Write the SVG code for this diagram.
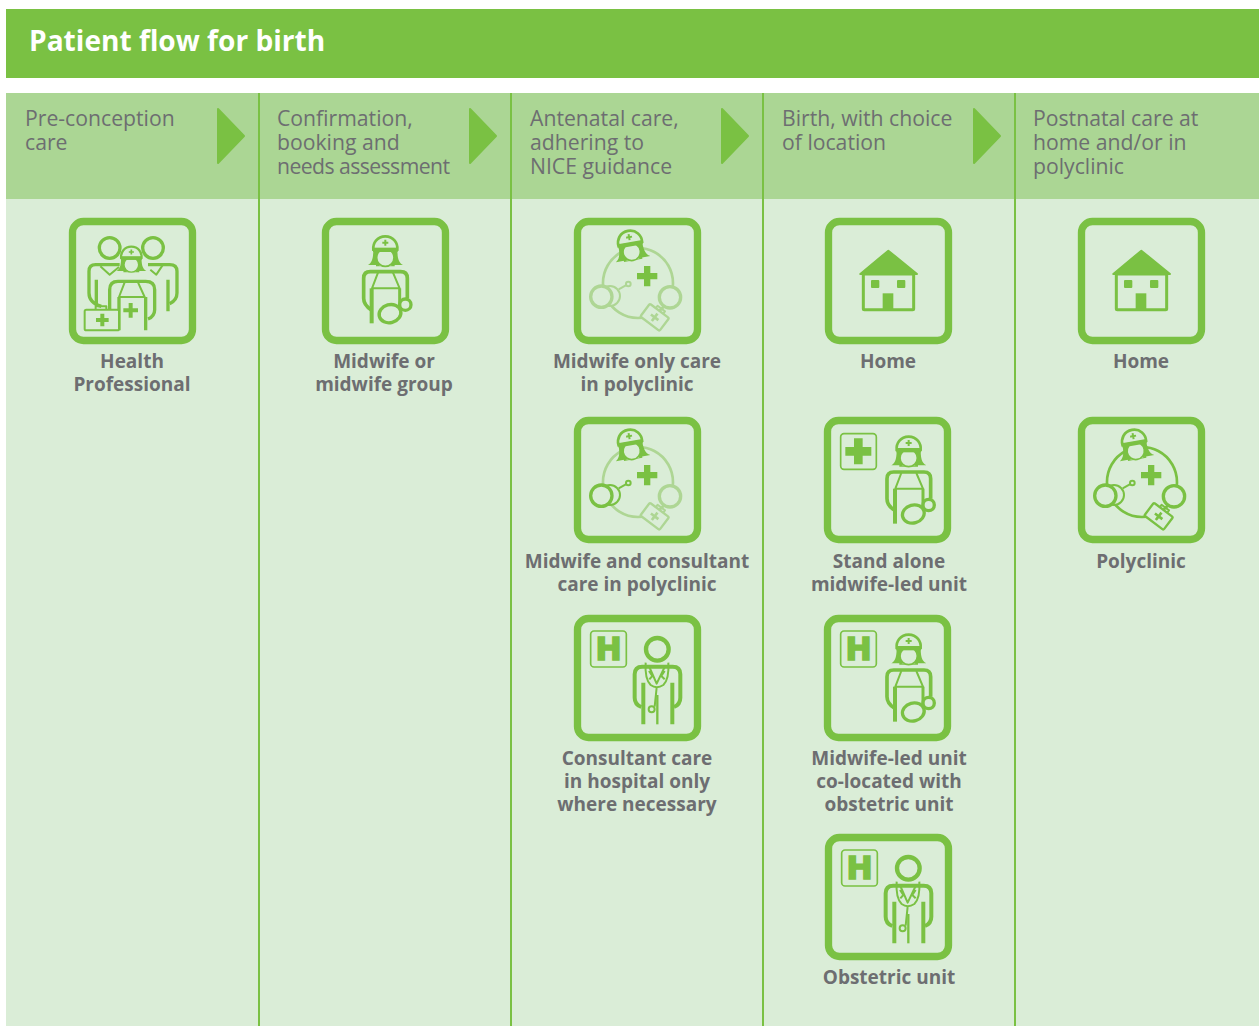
<svg xmlns="http://www.w3.org/2000/svg" width="1259" height="1026" viewBox="0 0 1259 1026">
<style>
.hd{font-family:"Open Sans","Noto Sans",sans-serif;font-size:21.2px;fill:#6D6E71}
.lb{font-family:"Open Sans","Noto Sans",sans-serif;font-size:19px;font-weight:700;fill:#6D6E71;text-anchor:middle}
.ti{font-family:"Open Sans","Noto Sans",sans-serif;font-size:28.1px;font-weight:700;fill:#fff}
.s{fill:none;stroke:currentColor;stroke-linecap:butt;stroke-linejoin:round}
.f{fill:currentColor}
.b{fill:#DAEDD7;stroke:currentColor}
.ic{color:#7AC143}
.lt{color:#AED694}
</style>
<defs>
<rect id="frame" x="10.5" y="10.5" width="360" height="357" rx="33" fill="#DAEDD7" stroke="#7AC143" stroke-width="22"/>
<g id="head">
<path class="f" d="M-52,40C-38,32-36,15-36,-10L36,-10C36,15 38,32 53,40Z"/>
<path class="f" d="M-28,36Q0,52 28,36V44H-28Z"/>
<circle class="b" cx="0" cy="18" r="26" stroke-width="5"/>
<path class="b" stroke-width="8" d="M-36,-6C-38,-25-25,-46 0,-46C25,-46 38,-25 36,-6Z"/>
<rect class="f" x="-37" y="-12" width="74" height="13"/>
<path class="f" d="M-3,-36h6v6h6v6h-6v6h-6v-6h-6v-6h6z"/>
</g>
<g id="midwife" transform="translate(-22,-24)">
<use href="#head" transform="translate(212,125)"/>
<path class="s" stroke-width="11" d="M170,300Q147,285 147,265L147,205Q147,185 167,185L258,185Q278,185 278,205L278,265"/>
<path class="s" stroke-width="6" d="M190,188L172,235L255,235L235,188"/>
<path class="s" stroke-width="12" d="M171,235V340"/>
<path class="s" stroke-width="9" d="M255,235V290"/>
<circle class="b" cx="272" cy="284" r="17" stroke-width="10"/>
<ellipse class="b" cx="226" cy="311" rx="33" ry="27" stroke-width="10" transform="rotate(-15 226 311)"/>
</g>
<g id="doctor" transform="translate(-20,-22)">
<circle class="s" cx="270" cy="125" r="34" stroke-width="13"/>
<path class="s" stroke-width="12" d="M222,298Q202,290 202,270L202,200Q202,177 225,177L316,177Q339,177 339,200L339,270Q339,290 320,298"/>
<path class="s" stroke-width="12" d="M228,225V350M315,225V350"/>
<path class="s" stroke-width="7" d="M270,262V350"/>
<path class="s" stroke-width="6" d="M235,165Q232,215 250,232Q268,245 288,232Q306,215 303,165M246,178L268,228L292,178M268,240L262,297M245,190L255,205L246,215M292,190L282,205L292,215"/>
<circle class="s" cx="253" cy="305" r="9" stroke-width="6"/>
</g>
<g id="house" transform="translate(-20,-24)">
<path class="f" stroke="currentColor" stroke-width="6" stroke-linejoin="round" d="M210,122L126,192H296Z"/>
<rect class="s" x="135" y="192" width="151" height="107" stroke-width="9" rx="3"/>
<rect class="f" x="158" y="210" width="25" height="24" rx="3"/>
<rect class="f" x="236" y="210" width="25" height="24" rx="3"/>
<rect class="f" x="193" y="250" width="32" height="47"/>
</g>
<g id="crossbox">
<rect x="50" y="50" width="107" height="107" rx="10" fill="none" stroke="#7AC143" stroke-width="5"/>
<path fill="#7AC143" d="M90,64h26v26h26v26h-26v26h-26v-26h-26v-26h26z"/>
</g>
<g id="hbox">
<rect x="50" y="48" width="107" height="108" rx="10" fill="none" stroke="#7AC143" stroke-width="5"/>
<text x="103.5" y="136" font-family="'DejaVu Sans',sans-serif" font-size="94" font-weight="700" text-anchor="middle" fill="#7AC143" stroke="#7AC143" stroke-width="5">H</text>
</g>
<path id="pcRing" class="s" stroke-width="8" transform="translate(-20,-24)" d="M212,114a105,105 0 1 1 -.1,0z"/>
<g id="pcNurse" transform="translate(-20,-24)"><use href="#head" transform="translate(190,108) rotate(-10)"/></g>
<path id="pcPlus" class="f" transform="translate(-20,-24)" d="M230,168h19v21h21v19h-21v21h-19v-21h-21v-19h21z"/>
<g id="pcSteth" transform="translate(-20,-24)">
<circle class="b" cx="128" cy="258" r="30" stroke-width="6"/>
<path class="s" stroke-width="6" d="M154,238L178,225"/>
<circle class="b" cx="183" cy="222" r="7" stroke-width="6"/>
<circle class="b" cx="102" cy="260" r="32" stroke-width="10"/>
</g>
<g id="pcRight" transform="translate(-20,-24)"><circle class="b" cx="308" cy="262" r="32" stroke-width="10"/></g>
<g id="pcBag" transform="translate(-20,-24) translate(262,322) rotate(37)">
<path class="s" stroke-width="6" d="M-14,-24v-9h28v9"/>
<rect class="b" x="-36" y="-24" width="72" height="48" rx="4" stroke-width="7"/>
<path class="f" d="M-4,-14h8v10h10v8h-10v10h-8v-10h-10v-8h10z"/>
</g>
<path id="arrow" fill="#7AC143" stroke="#7AC143" stroke-width="2" stroke-linejoin="round" d="M0,1V55L26,28Z"/>
</defs>

<rect x="6" y="9" width="1253" height="69" fill="#7AC143"/>
<text class="ti" x="29" y="51">Patient flow for birth</text>
<rect x="6" y="93" width="1253" height="106" fill="#ABD694"/>
<rect x="6" y="199" width="1253" height="827" fill="#DAEDD7"/>

<g id="connectors">
<g stroke="#7AC143" stroke-width="2">
<path d="M259,93V1026M511,93V1026M763,93V1026M1015,93V1026"/>
</g>
<use href="#arrow" x="218" y="108"/>
<use href="#arrow" x="470" y="108"/>
<use href="#arrow" x="722" y="108"/>
<use href="#arrow" x="974" y="108"/>
</g>

<g id="heading-1"><text class="hd"><tspan x="25" y="126">Pre-conception</tspan><tspan x="25" y="150">care</tspan></text></g>
<g id="heading-2"><text class="hd" x="277" y="126">Confirmation,</text><text class="hd" x="277" y="150">booking and</text><text class="hd" x="277" y="174" textLength="173">needs assessment</text></g>
<g id="heading-3"><text class="hd"><tspan x="530" y="126">Antenatal care,</tspan><tspan x="530" y="150">adhering to</tspan><tspan x="530" y="174">NICE guidance</tspan></text></g>
<g id="heading-4"><text class="hd"><tspan x="782" y="126">Birth, with choice</tspan><tspan x="782" y="150">of location</tspan></text></g>
<g id="heading-5"><text class="hd"><tspan x="1033" y="126">Postnatal care at</tspan><tspan x="1033" y="150">home and/or in</tspan><tspan x="1033" y="174">polyclinic</tspan></text></g>

<g id="health-professional">
<g class="ic" transform="translate(69,218) scale(.3333)">
<use href="#frame"/>
<g transform="translate(-28,-25)">
<circle class="s" cx="150" cy="115" r="31" stroke-width="10"/>
<circle class="s" cx="280" cy="115" r="31" stroke-width="10"/>
<path class="s" stroke-width="10" d="M125,290Q88,280 88,250L88,185Q88,165 108,165L180,165M265,165L330,165Q352,165 352,185L352,250Q352,272 330,282"/>
<path class="s" stroke-width="6" d="M122,170L150,195L178,172M272,180L290,195L310,165"/>
<path class="s" stroke-width="10" d="M110,210V285M325,210V305"/>
<use href="#head" transform="translate(215,150) scale(.85)"/>
<path class="s" stroke-width="10" d="M178,345Q150,325 150,300L150,240Q150,215 175,215L258,215Q285,215 285,240L285,300Q285,320 265,328"/>
<path class="s" stroke-width="6" d="M195,218L178,262L255,262L235,218"/>
<path class="s" stroke-width="10" d="M178,262V362M258,262V362"/>
<path class="f" d="M207,280h12v16h16v12h-16v16h-12v-16h-16v-12h16z"/>
<path class="s" stroke-width="6" d="M108,300v-10h32v10"/>
<rect class="b" x="75" y="300" width="103" height="62" rx="5" stroke-width="6"/>
<path class="f" d="M122,312h12v13h13v12h-13v13h-12v-13h-13v-12h13z"/>
</g>
</g>
<text class="lb"><tspan x="132" y="368">Health</tspan><tspan x="132" y="391">Professional</tspan></text>
</g>

<g id="midwife-group">
<g class="ic" transform="translate(322,218) scale(.3333)"><use href="#frame"/><use href="#midwife"/></g>
<text class="lb"><tspan x="384" y="368">Midwife or</tspan><tspan x="384" y="391">midwife group</tspan></text>
</g>

<g id="midwife-only">
<g class="ic" transform="translate(574,218) scale(.3333)"><use href="#frame"/>
<use href="#pcRing" class="lt"/><use href="#pcSteth" class="lt"/><use href="#pcRight" class="lt"/><use href="#pcBag" class="lt"/><use href="#pcNurse"/><use href="#pcPlus"/></g>
<text class="lb"><tspan x="637" y="368">Midwife only care</tspan><tspan x="637" y="391">in polyclinic</tspan></text>
</g>

<g id="midwife-consultant">
<g class="ic" transform="translate(574,417) scale(.3333)"><use href="#frame"/>
<use href="#pcRing" class="lt"/><use href="#pcRight" class="lt"/><use href="#pcBag" class="lt"/><use href="#pcSteth"/><use href="#pcNurse"/><use href="#pcPlus"/></g>
<text class="lb"><tspan x="637" y="568">Midwife and consultant</tspan><tspan x="637" y="591">care in polyclinic</tspan></text>
</g>

<g id="consultant-care">
<g class="ic" transform="translate(574,615) scale(.3333)"><use href="#frame"/><use href="#hbox"/><use href="#doctor"/></g>
<text class="lb"><tspan x="637" y="765">Consultant care</tspan><tspan x="637" y="788">in hospital only</tspan><tspan x="637" y="811">where necessary</tspan></text>
</g>

<g id="home-birth">
<g class="ic" transform="translate(825,218) scale(.3333)"><use href="#frame"/><use href="#house"/></g>
<text class="lb"><tspan x="888" y="368">Home</tspan></text>
</g>

<g id="stand-alone">
<g class="ic" transform="translate(824,417) scale(.3333)"><use href="#frame"/><use href="#crossbox"/><use href="#midwife" x="64" y="4"/></g>
<text class="lb"><tspan x="889" y="568">Stand alone</tspan><tspan x="889" y="591">midwife-led unit</tspan></text>
</g>

<g id="co-located">
<g class="ic" transform="translate(824,615) scale(.3333)"><use href="#frame"/><use href="#hbox"/><use href="#midwife" x="64" y="4"/></g>
<text class="lb"><tspan x="889" y="765">Midwife-led unit</tspan><tspan x="889" y="788">co-located with</tspan><tspan x="889" y="811">obstetric unit</tspan></text>
</g>

<g id="obstetric-unit">
<g class="ic" transform="translate(825,834) scale(.3333)"><use href="#frame"/><use href="#hbox"/><use href="#doctor"/></g>
<text class="lb"><tspan x="889" y="984">Obstetric unit</tspan></text>
</g>

<g id="home-postnatal">
<g class="ic" transform="translate(1078,218) scale(.3333)"><use href="#frame"/><use href="#house"/></g>
<text class="lb"><tspan x="1141" y="368">Home</tspan></text>
</g>

<g id="polyclinic">
<g class="ic" transform="translate(1078,417) scale(.3333)"><use href="#frame"/>
<use href="#pcRing"/><use href="#pcRight"/><use href="#pcBag"/><use href="#pcSteth"/><use href="#pcNurse"/><use href="#pcPlus"/></g>
<text class="lb"><tspan x="1141" y="568">Polyclinic</tspan></text>
</g>
</svg>
